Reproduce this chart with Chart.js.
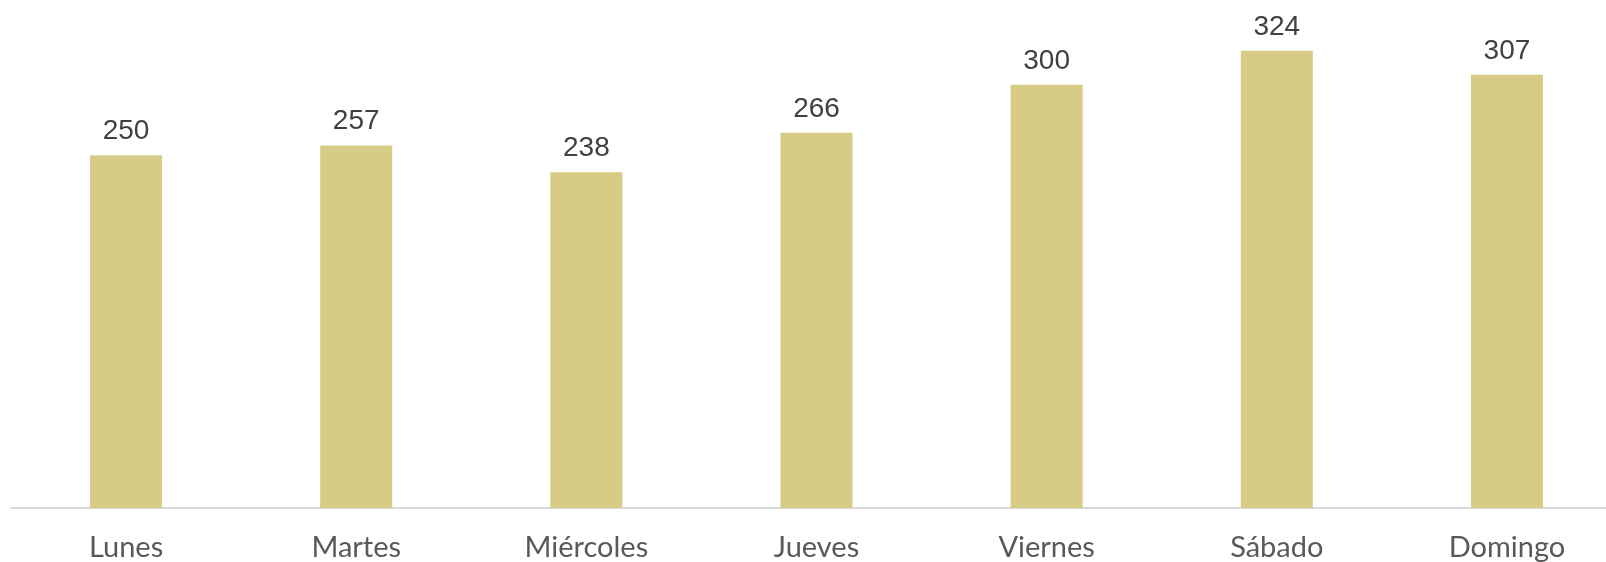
<!DOCTYPE html>
<html>
<head>
<meta charset="utf-8">
<script src="https://cdn.jsdelivr.net/npm/chart.js@4"></script>
<style>
	html, body { margin: 0; padding: 0; background: #ffffff; overflow: hidden; }
	#wrap { width: 1622px; height: 587px; }
</style>
</head>
<body>
<div id="wrap"><canvas id="chartDays"></canvas></div>
<script>
	'use strict';

	const days = ['Lunes', 'Martes', 'Miércoles', 'Jueves', 'Viernes', 'Sábado', 'Domingo'];
	const visits = [250, 257, 238, 266, 300, 324, 307];

	// draw the value above each bar
	const barValues = {
		id: 'barValues',
		afterDatasetsDraw: function (chart) {
			const ctx = chart.ctx;
			const meta = chart.getDatasetMeta(0);
			ctx.save();
			ctx.fillStyle = '#404040';
			ctx.font = '28px "Liberation Sans", Arial, sans-serif';
			ctx.textAlign = 'center';
			ctx.textBaseline = 'alphabetic';
			meta.data.forEach(function (bar, i) {
				ctx.fillText(String(chart.data.datasets[0].data[i]), bar.x, bar.y - 16);
			});
			ctx.restore();
		}
	};

	const chart = new Chart(document.getElementById('chartDays').getContext('2d'), {
		type: 'bar',
		data: {
			labels: days,
			datasets: [
				{
					data: visits,
					backgroundColor: '#d6cc86',
					borderWidth: 0,
					barPercentage: 0.313,
					categoryPercentage: 1
				}
			]
		},
		options: {
			responsive: true,
			maintainAspectRatio: false,
			animation: false,
			plugins: {
				legend: { display: false },
				tooltip: { enabled: false }
			},
			layout: {
				padding: { left: 11, right: 0, top: 0, bottom: 0 }
			},
			scales: {
				y: {
					display: false,
					min: 0,
					max: 360
				},
				x: {
					grid: { display: false, drawTicks: false },
					border: { display: true, color: '#d9d9d9', width: 2 },
					ticks: {
						color: '#595959',
						padding: 22,
						font: { family: 'Lato, "DejaVu Sans", sans-serif', size: 29 }
					}
				}
			}
		},
		plugins: [barValues]
	});
</script>
</body>
</html>
